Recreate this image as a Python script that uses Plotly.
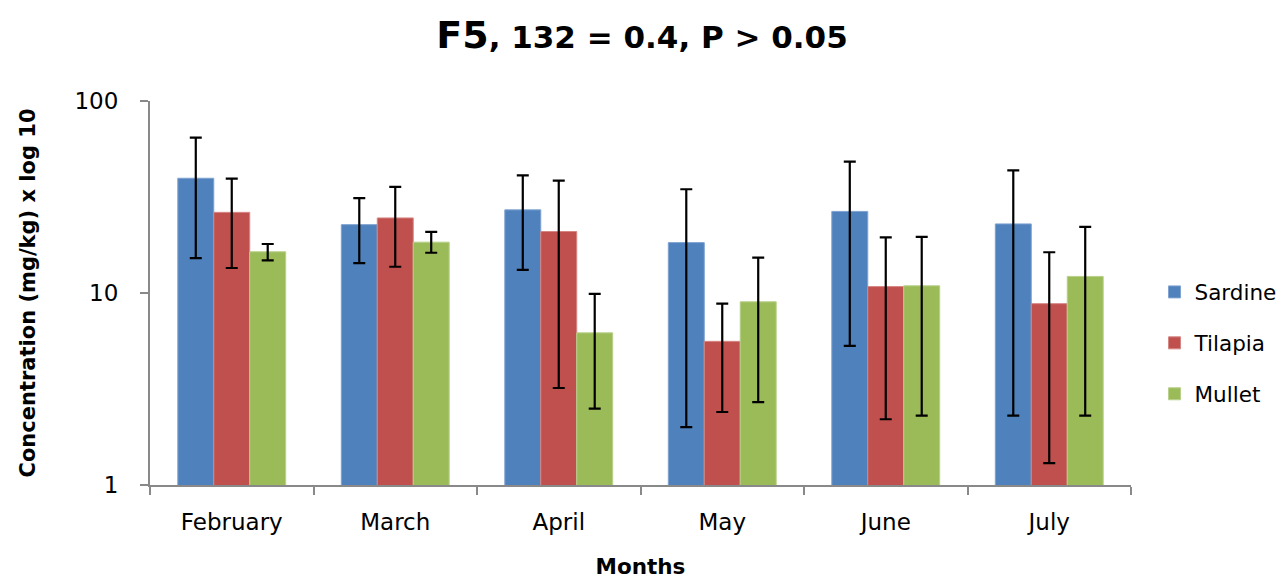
import plotly.graph_objects as go

months = ["February", "March", "April", "May", "June", "July"]
series_names = ["Sardine", "Tilapia", "Mullet"]

sardine = [39.6, 22.7, 27.1, 18.3, 26.6, 22.9]
sardine_hi = [64.4, 31.2, 41.0, 34.7, 48.3, 43.5]
sardine_lo = [15.2, 14.3, 13.2, 2.0, 5.3, 2.3]

tilapia = [26.3, 24.6, 20.9, 5.6, 10.8, 8.8]
tilapia_hi = [39.4, 35.7, 38.5, 8.8, 19.5, 16.3]
tilapia_lo = [13.5, 13.7, 3.2, 2.4, 2.2, 1.3]

mullet = [16.4, 18.4, 6.2, 9.0, 10.9, 12.2]
mullet_hi = [18.0, 20.8, 9.9, 15.3, 19.6, 22.1]
mullet_lo = [14.8, 16.2, 2.5, 2.7, 2.3, 2.3]

colors = ["#4F81BD", "#C0504D", "#9BBB59"]
lines = ["#7FA3D0", "#D58683", "#B8D08A"]

data = [
    (sardine, sardine_hi, sardine_lo),
    (tilapia, tilapia_hi, tilapia_lo),
    (mullet, mullet_hi, mullet_lo),
]

fig = go.Figure()
for name, (vals, hi, lo), c, lc in zip(series_names, data, colors, lines):
    fig.add_trace(go.Bar(
        x=months, y=vals, name=name, legendgroup=name,
        marker=dict(color=c, line=dict(color=lc, width=1)),
        error_y=dict(
            type="data", symmetric=False,
            array=[h - v for h, v in zip(hi, vals)],
            arrayminus=[v - l for v, l in zip(vals, lo)],
            color="black", thickness=2.2, width=6,
        ),
    ))

font_family = "DejaVu Sans, Liberation Sans, sans-serif"

fig.update_layout(
    width=1287, height=577,
    margin=dict(l=142, r=164, t=93, b=100),
    paper_bgcolor="white", plot_bgcolor="white",
    barmode="group", bargap=0.34, bargroupgap=0,
    font=dict(family=font_family, color="black", size=22),
    title=dict(
        text="<b><span style='font-size:38px'>F5</span>, 132 = 0.4, P > 0.05</b>",
        x=0.4926, xanchor="center", y=0.95, yanchor="middle",
        font=dict(size=31, family=font_family, color="black"),
    ),
    legend=dict(
        x=1.024, xanchor="left", y=0.37, yanchor="middle",
        font=dict(size=21.5, family=font_family), tracegroupgap=20,
        bgcolor="rgba(0,0,0,0)",
    ),
    showlegend=True,
)

fig.update_xaxes(
    showline=True, linecolor="#898989", linewidth=2, automargin=False,
    ticks="outside", tickson="boundaries", ticklen=8, tickcolor="#898989", tickwidth=2,
    tickfont=dict(size=23, family=font_family), ticklabelstandoff=15,
    title=dict(text="<b>Months</b>", font=dict(size=21.5, family=font_family), standoff=25),
    showgrid=False, zeroline=False,
)
fig.update_yaxes(
    type="log", range=[0, 2], automargin=False,
    tickvals=[1, 10, 100], ticktext=["1", "10", "100"],
    showline=True, linecolor="#898989", linewidth=2,
    ticks="outside", ticklen=8, tickcolor="#898989", tickwidth=2,
    tickfont=dict(size=23, family=font_family), ticklabelstandoff=17,
    title=dict(text="<b>Concentration (mg/kg) x log 10</b>", font=dict(size=21, family=font_family), standoff=33),
    showgrid=False, zeroline=False,
)

fig.write_html("out.html")
